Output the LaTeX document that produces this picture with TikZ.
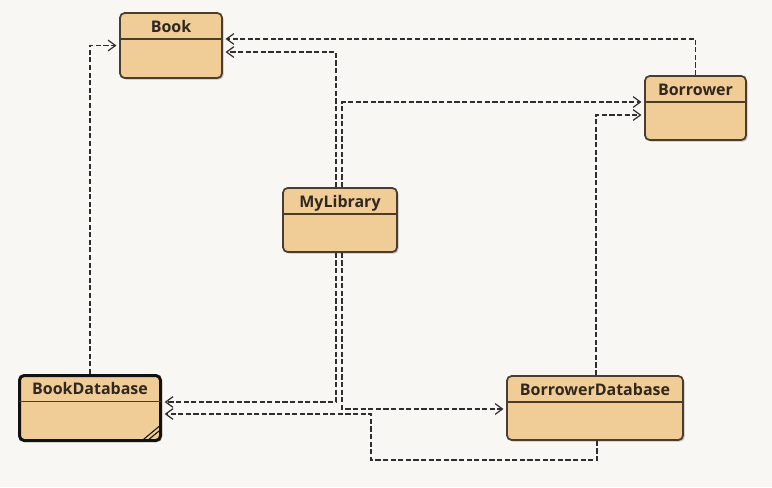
\documentclass[tikz,border=0pt]{standalone}
\usepackage{fontspec}
\setmainfont{Open Sans}
\usetikzlibrary{arrows.meta,shadows}
\definecolor{bg}{HTML}{F8F7F3}
\definecolor{boxfill}{HTML}{F0CC97}
\definecolor{border}{HTML}{4A3D30}
\definecolor{thickborder}{HTML}{111111}
\definecolor{txt}{HTML}{30281F}
\definecolor{linec}{HTML}{2E2E2E}
\begin{document}
\begin{tikzpicture}[x=0.75pt,y=-0.75pt,
  cls/.style={draw=border, fill=boxfill, line width=1.3pt, rounded corners=3.5pt,
    drop shadow={shadow xshift=1.2pt, shadow yshift=-1.2pt, opacity=0.22, fill=black},
    inner sep=0pt},
  ttl/.style={font=\bfseries\fontsize{12}{14}\selectfont, text=txt, anchor=base, inner sep=0pt},
  sepline/.style={draw=border, line width=1.3pt},
  dep/.style={draw=linec, line width=0.95pt, dash pattern=on 3.8pt off 1.9pt,
    -{Straight Barb[length=5.5pt,width=8pt,line width=0.9pt]}, shorten >=2pt}]
\useasboundingbox[fill=bg] (0,0) rectangle (772,487);

% classes
\node[cls, minimum width=76.5pt, minimum height=48.75pt] (book) at (171,45.5) {};
\node[cls, minimum width=75.75pt, minimum height=48pt] (borrower) at (695.5,108) {};
\node[cls, minimum width=85.5pt, minimum height=48pt] (mylib) at (340,220) {};
\node[cls, draw=thickborder, line width=2.25pt, minimum width=105.75pt, minimum height=48.75pt] (bookdb) at (90,408) {};
\node[cls, minimum width=132pt, minimum height=48pt] (borrowerdb) at (595,408) {};

% titles
\node[ttl] (book-t) at ([yshift=-15.4pt]book.north) {Book};
\node[ttl] (borrower-t) at ([yshift=-15.4pt]borrower.north) {Borrower};
\node[ttl] (mylib-t) at ([yshift=-15.4pt]mylib.north) {MyLibrary};
\node[ttl] (bookdb-t) at ([yshift=-15.4pt]bookdb.north) {BookDatabase};
\node[ttl] (borrowerdb-t) at ([yshift=-15.4pt]borrowerdb.north) {BorrowerDatabase};

% separators
\foreach \n in {book,borrower,mylib,borrowerdb}{
  \draw[sepline] ([yshift=-20.25pt]\n.north west) -- ([yshift=-20.25pt]\n.north east);
}
\draw[sepline] ([yshift=-20.6pt,xshift=1pt]bookdb.north west) -- ([yshift=-20.6pt,xshift=-1pt]bookdb.north east);

% abstract/hatch mark
\draw[thickborder, line width=0.8pt] ([xshift=-15.5pt,yshift=0.6pt]bookdb.south east) -- ([xshift=-1.2pt,yshift=12.5pt]bookdb.south east);
\draw[thickborder, line width=0.8pt] ([xshift=-11.5pt,yshift=0.6pt]bookdb.south east) -- ([xshift=-1.2pt,yshift=9.1pt]bookdb.south east);

% dependencies
\coordinate (c1) at (371,460);
\draw[dep] (bookdb.north) |- (book.west);
\draw[dep] (borrower.north) |- ([yshift=4.9pt]book.east);
\draw[dep] ([xshift=-3pt]mylib.north) |- ([yshift=-4.9pt]book.east);
\draw[dep] ([xshift=1.5pt]mylib.north) |- ([yshift=4.5pt]borrower.west);
\draw[dep] ([xshift=0.75pt]borrowerdb.north) |- ([yshift=-5.25pt]borrower.west);
\draw[dep] ([xshift=-3pt]mylib.south) |- ([yshift=4.5pt]bookdb.east);
\draw[dep] ([xshift=1.5pt]mylib.south) |- ([yshift=-0.75pt]borrowerdb.west);
\draw[dep] ([xshift=1.5pt]borrowerdb.south) |- (c1) |- ([yshift=-4.5pt]bookdb.east);
\end{tikzpicture}
\end{document}
